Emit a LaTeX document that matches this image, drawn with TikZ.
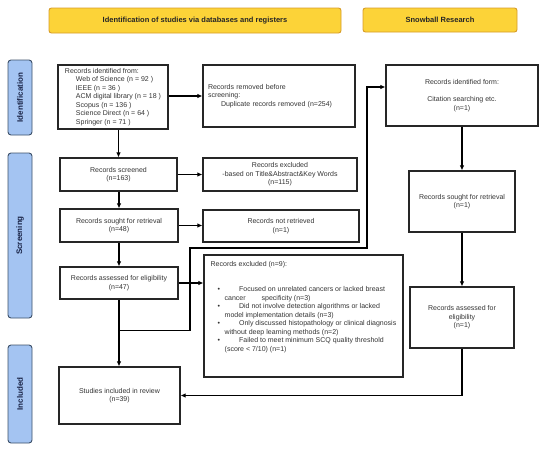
\documentclass[tikz,border=0pt]{standalone}
\usepackage{fontspec}
\setmainfont{Liberation Sans}
\usetikzlibrary{arrows.meta}
\definecolor{headYellow}{RGB}{252, 211, 56}
\definecolor{headEdge}{RGB}{214, 155, 40}
\definecolor{sideBlue}{RGB}{164, 196, 242}
\definecolor{sideEdge}{RGB}{60, 80, 105}
\definecolor{sideText}{RGB}{25, 35, 70}
\definecolor{boxText}{RGB}{51, 51, 51}

\begin{document}
\begin{tikzpicture}[x=1pt, y=-1pt,
    box/.style={draw=black!85, line width=1.1pt, rectangle, inner sep=0pt, font=\fontsize{7}{8.5}\selectfont, text=boxText, align=center},
    head/.style={draw=headEdge, fill=headYellow, line width=0.9pt, rounded corners=2.5pt, inner sep=0pt, font=\fontsize{7.5}{9}\selectfont\bfseries, text=black!85},
    side/.style={draw=sideEdge, fill=sideBlue, line width=0.9pt, rounded corners=3pt, rotate=90, inner sep=0pt, minimum height=24pt, font=\fontsize{8}{9}\selectfont\bfseries, text=sideText},
    arr/.style={line width=1.1pt, -{Latex[length=5pt,width=4.5pt]}}]
        \useasboundingbox (0,0) rectangle (550,451);
        \node[head, minimum width=292pt, minimum height=25pt] (hdb) at (195,20.5) {Identification of studies via databases and registers};
        \node[head, minimum width=154pt, minimum height=24pt] (hsn) at (440,20) {Snowball Research};
        \node[side, minimum width=75pt] (sidf) at (20,97.5) {Identification};
        \node[side, minimum width=165pt] (sscr) at (20,235.5) {Screening};
        \node[side, minimum width=98pt] (sinc) at (20,394) {Included};
        \node[box, align=left, minimum width=110pt, minimum height=64pt] (idl) at (113,97) {Records identified from:\hspace*{8pt}\\
            \hspace*{11pt}Web of Science (n = 92 )\\
            \hspace*{11pt}IEEE (n = 36 )\\
            \hspace*{11pt}ACM digital library (n = 18 )\\
            \hspace*{11pt}Scopus (n = 136 )\\
            \hspace*{11pt}Science Direct (n = 64 )\\
            \hspace*{11pt}Springer (n = 71 )\hspace*{8pt}};
        \node[box, minimum width=117pt, minimum height=33pt] (scr) at (118.5,174.5) {Records screened\\(n=163)};
        \node[box, minimum width=118pt, minimum height=33pt] (sgt) at (119,225.5) {Records sought for retrieval\\(n=48)};
        \node[box, minimum width=118pt, minimum height=32pt] (ase) at (119,283) {Records assessed for eligibility\\(n=47)};
        \node[box, minimum width=121pt, minimum height=57pt] (inc) at (119.5,395.5) {Studies included in review\\(n=39)};
        \node[box, align=left, text width=142pt, inner xsep=5pt, minimum height=62pt] (rem) at (279,96) {Records removed before\\screening:\\
            \hspace*{13pt}Duplicate records removed (n=254)};
        \node[box, minimum width=154pt, minimum height=33pt] (exc) at (280,174.5) {Records excluded\\-based on Title\&Abstract\&Key Words\\(n=115)};
        \node[box, minimum width=156pt, minimum height=32pt] (nrt) at (281,226) {Records not retrieved\\(n=1)};
        \node[box, align=left, minimum width=199pt, minimum height=122pt] (exn) at (303.5,316) {Records excluded (n=9):\\[16.5pt]
            \hspace*{7pt}•\hspace*{19pt}Focused on unrelated cancers or lacked breast\\
            \hspace*{14pt}cancer\hspace*{16pt}specificity (n=3)\\
            \hspace*{7pt}•\hspace*{19pt}Did not involve detection algorithms or lacked\\
            \hspace*{14pt}model implementation details (n=3)\\
            \hspace*{7pt}•\hspace*{19pt}Only discussed histopathology or clinical diagnosis\\
            \hspace*{14pt}without deep learning methods (n=2)\\
            \hspace*{7pt}•\hspace*{19pt}Failed to meet minimum SCQ quality threshold\\
            \hspace*{14pt}(score < 7/10) (n=1)\\[8.5pt]\strut};
        \node[box, minimum width=152pt, minimum height=61pt] (sid) at (462,95.5) {Records identified form:\\[8.5pt]Citation searching etc.\\(n=1)};
        \node[box, minimum width=106pt, minimum height=61pt] (sso) at (462,201.5) {Records sought for retrieval\\(n=1)};
        \node[box, minimum width=104pt, minimum height=61pt] (sas) at (462,317.5) {Records assessed for\\eligibility\\(n=1)};
        \coordinate (jn) at ([yshift=-31pt]ase.south);
        \coordinate (sin) at ([yshift=8.5pt]sid.west);
        \draw[arr] (scr.north |- idl.south) -- (scr.north);
        \draw[arr] (sgt.north |- scr.south) -- (sgt.north);
        \draw[arr] (sgt.south) -- (ase.north);
        \draw[arr] (ase.south) -- (ase.south |- inc.north);
        \draw[arr] (idl.east |- rem.west) -- (rem.west);
        \draw[arr] (scr.east) -- (exc.west);
        \draw[arr] (sgt.east) -- (sgt.east -| nrt.west);
        \draw[arr] (ase.east) -- (ase.east -| exn.west);
        \draw[arr] (sid.south) -- (sso.north);
        \draw[arr] (sso.south) -- (sas.north);
        \draw[arr] (sas.south) |- (inc.east);
        \draw[arr] (jn) -| (190,248) -| (367,87) -- (sin);
      \end{tikzpicture}
\end{document}
